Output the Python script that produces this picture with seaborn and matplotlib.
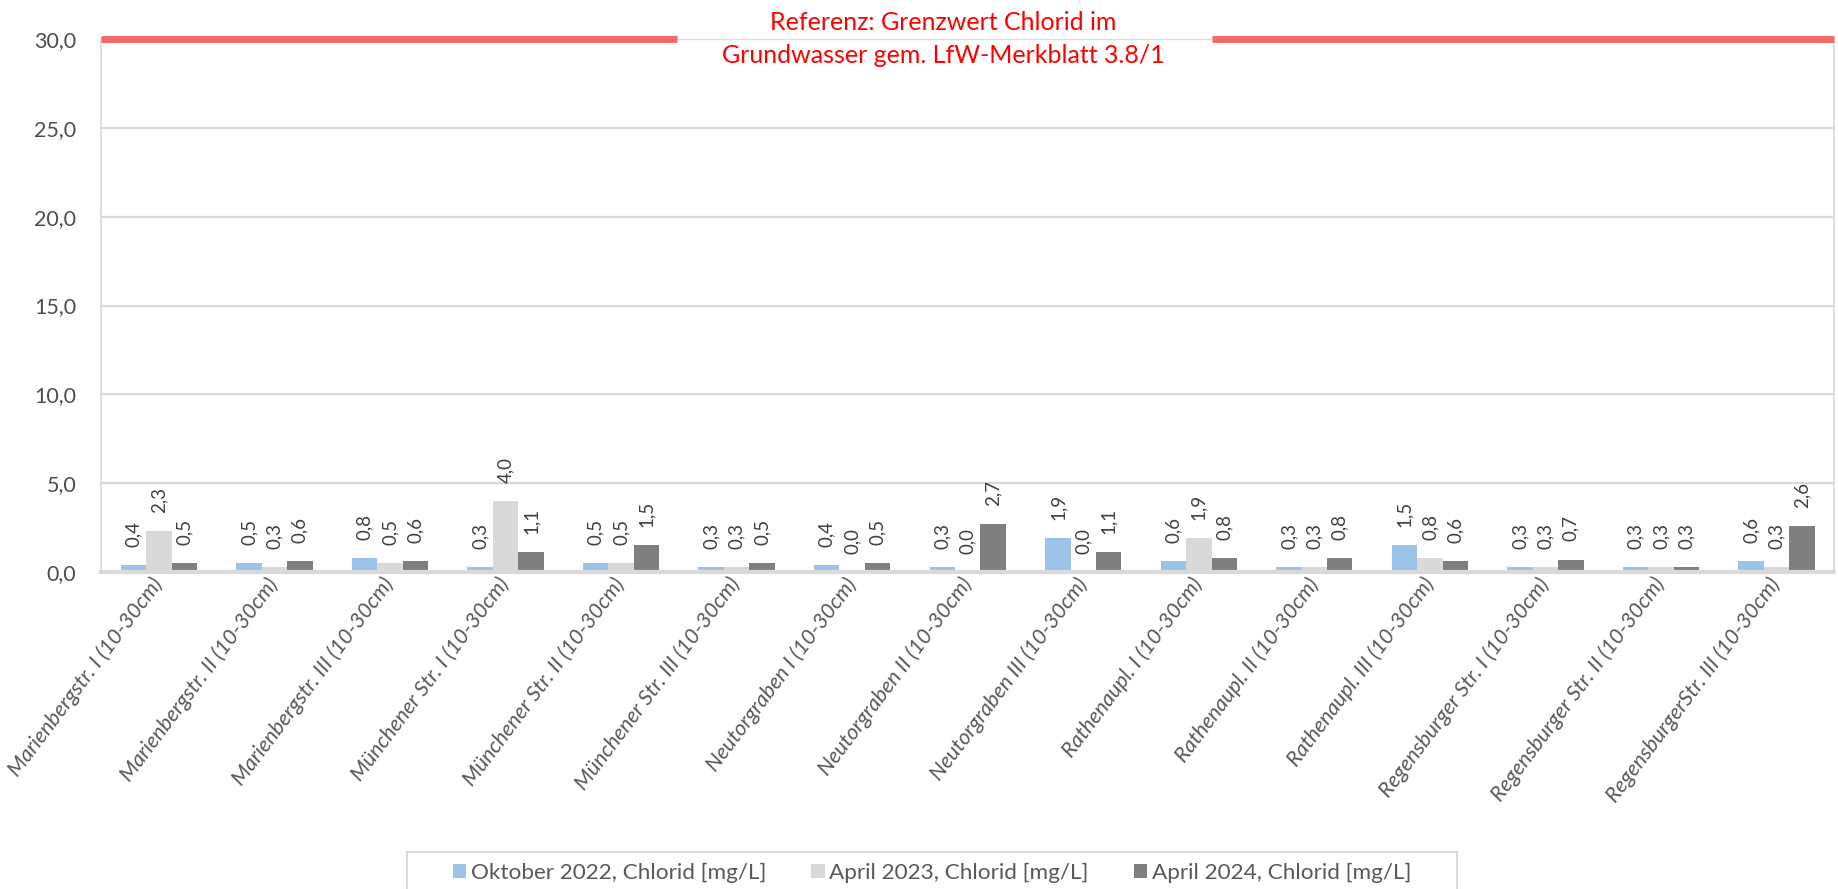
import numpy as np
import pandas as pd
import matplotlib
matplotlib.use("Agg")
import matplotlib.pyplot as plt
from matplotlib.patches import Rectangle
from matplotlib.ticker import FuncFormatter
import seaborn as sns

# Messstellen (x-Achse)
standorte = [
    "Marienbergstr. I (10-30cm)",
    "Marienbergstr. II (10-30cm)",
    "Marienbergstr. III (10-30cm)",
    "Münchener Str. I (10-30cm)",
    "Münchener Str. II (10-30cm)",
    "Münchener Str. III (10-30cm)",
    "Neutorgraben I (10-30cm)",
    "Neutorgraben II (10-30cm)",
    "Neutorgraben III (10-30cm)",
    "Rathenaupl. I (10-30cm)",
    "Rathenaupl. II (10-30cm)",
    "Rathenaupl. III (10-30cm)",
    "Regensburger Str. I (10-30cm)",
    "Regensburger Str. II (10-30cm)",
    "RegensburgerStr. III (10-30cm)",
]
serien = ["Oktober 2022, Chlorid [mg/L]", "April 2023, Chlorid [mg/L]", "April 2024, Chlorid [mg/L]"]

# Chlorid in mg/L
okt_2022 = [0.4, 0.5, 0.8, 0.3, 0.5, 0.3, 0.4, 0.3, 1.9, 0.6, 0.3, 1.5, 0.3, 0.3, 0.6]
apr_2023 = [2.3, 0.3, 0.5, 4.0, 0.5, 0.3, 0.0, 0.0, 0.0, 1.9, 0.3, 0.8, 0.3, 0.3, 0.3]
apr_2024 = [0.5, 0.6, 0.6, 1.1, 1.5, 0.5, 0.5, 2.7, 1.1, 0.8, 0.8, 0.6, 0.7, 0.3, 2.6]

grenzwert = 30.0
grenzwert_text = "Referenz: Grenzwert Chlorid im\nGrundwasser gem. LfW-Merkblatt 3.8/1"
yticks = [0, 5, 10, 15, 20, 25, 30]

farben = ["#9dc3e6", "#d9d9d9", "#7f7f7f"]
grau = "#d9d9d9"
text_grau = "#595959"


def komma(v):
    return f"{v:.1f}".replace(".", ",")


def main():
    werte = [okt_2022, apr_2023, apr_2024]
    df = pd.DataFrame({
        "Standort": standorte * 3,
        "Messung": np.repeat(serien, len(standorte)),
        "Wert": np.concatenate(werte),
    })

    sns.set_style("white")
    plt.rcParams["font.family"] = ["Lato", "DejaVu Sans"]

    fig = plt.figure(figsize=(18.38, 8.89), dpi=100)
    ax = fig.add_axes([0.055, 0.3566, 0.943, 0.5994])

    sns.barplot(data=df, x="Standort", y="Wert", hue="Messung", palette=farben,
                width=0.66, gap=0, saturation=1, errorbar=None,
                edgecolor="none", linewidth=0, ax=ax)

    handles, labels = ax.get_legend_handles_labels()
    ax.get_legend().remove()

    # Datenbeschriftungen
    for cont, vals in zip(ax.containers, werte):
        ax.bar_label(cont, labels=[komma(v) for v in vals], rotation=90,
                     padding=13, fontsize=13.5, color="#404040")

    ax.set_ylim(0, 30)
    ax.set_xlim(-0.5, len(standorte) - 0.5)
    ax.set_yticks(yticks)
    ax.yaxis.set_major_formatter(FuncFormatter(lambda v, p: komma(v)))
    ax.set_axisbelow(True)
    ax.yaxis.grid(True, color=grau, lw=1.6)
    ax.set_xlabel("")
    ax.set_ylabel("")

    for s in ["left", "right"]:
        ax.spines[s].set_color(grau)
        ax.spines[s].set_linewidth(1.2)
    ax.spines["top"].set_visible(False)
    ax.spines["bottom"].set_color(grau)
    ax.spines["bottom"].set_linewidth(3)

    ax.set_xticks(np.arange(-0.5, len(standorte), 1), minor=True)
    ax.tick_params(axis="x", which="minor", length=8, width=1.5, color=grau)
    ax.tick_params(axis="x", which="major", length=0, pad=6)
    ax.tick_params(axis="y", length=0, pad=18, labelsize=15.5, labelcolor="#4d4d4d")
    plt.setp(ax.get_xticklabels(), rotation=53, ha="right", va="center",
             rotation_mode="anchor", fontsize=15.5, color=text_grau, style="italic")

    # Grenzwertlinie mit Textlücke
    for x0, x1 in [(0, 0.332), (0.641, 1)]:
        ax.axhline(grenzwert, xmin=x0, xmax=x1, color="#f26b6b", lw=5,
                   solid_capstyle="butt", clip_on=False, zorder=5)
    ax.text(0.486, grenzwert, grenzwert_text, transform=ax.get_yaxis_transform(),
            ha="center", va="center", color="#ff0000", fontsize=18, linespacing=1.5)

    # Legende unten
    fig.patches.append(Rectangle((407 / 1838, -0.05), 1050 / 1838, 0.05 + (889 - 852) / 889,
                                 transform=fig.transFigure, fill=False,
                                 edgecolor=grau, lw=1.5))
    fig.legend(handles, labels, loc="center", bbox_to_anchor=(0.507, 1 - 873 / 889),
               ncol=3, frameon=False, fontsize=16.2, handlelength=0.6, handleheight=0.6,
               handletextpad=0.2, columnspacing=2.0, labelcolor=text_grau)

    fig.savefig("out.png", dpi=100)


if __name__ == "__main__":
    main()
